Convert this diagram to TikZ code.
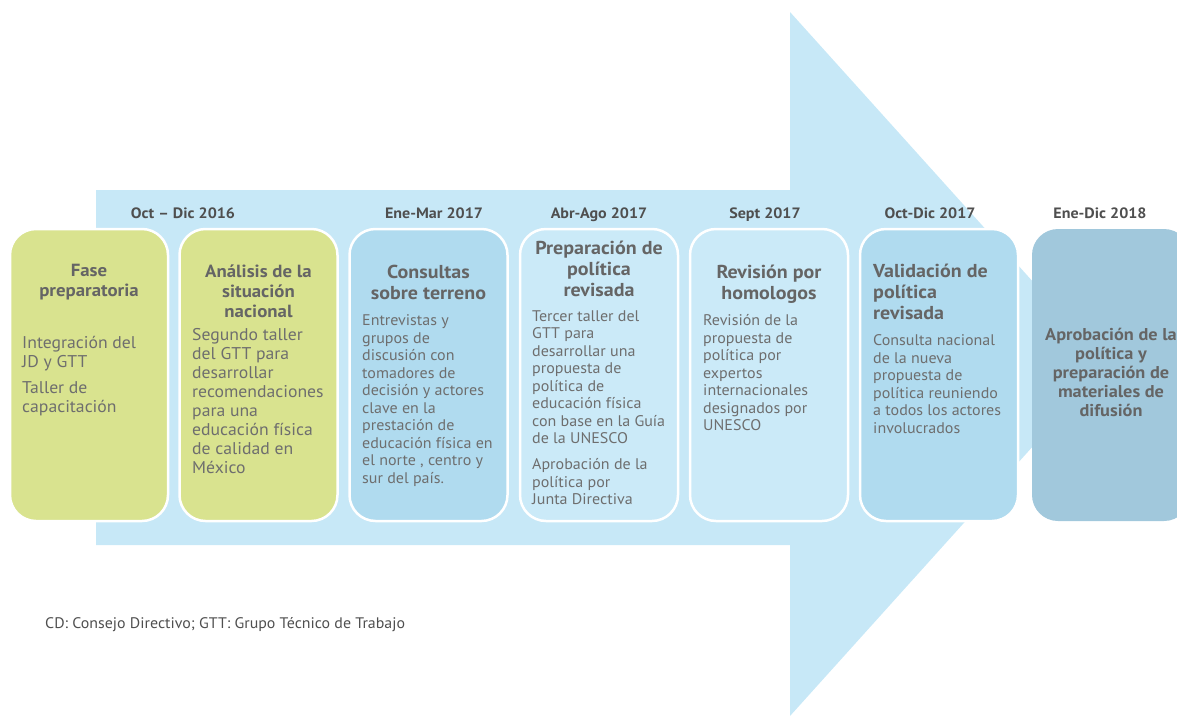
\documentclass[tikz,border=0pt]{standalone}
\usepackage{fontspec}
\setmainfont{PT Sans}[FakeStretch=1.04, BoldFeatures={FakeStretch=1.07}]
\usepackage{tikz}
\usetikzlibrary{positioning}

\definecolor{arrowblue}{HTML}{C7E8F7}
\definecolor{phasegreen}{HTML}{D9E38F}
\definecolor{phaseblue}{HTML}{B0DBEF}
\definecolor{phaselight}{HTML}{CBEAF8}
\definecolor{phasedark}{HTML}{A1C8DC}
\definecolor{headtext}{HTML}{656565}
\definecolor{bodytext}{HTML}{6E6E6E}
\definecolor{datetext}{HTML}{4F4F4F}

\begin{document}
\begin{tikzpicture}[x=1pt,y=-1pt,
    phase/.style={draw=white, line width=2.5pt, rounded corners=26pt,
        minimum width=158pt, minimum height=292pt, inner sep=0pt},
    period/.style={font=\fontsize{15}{17}\selectfont\bfseries, text=datetext,
        anchor=base, inner sep=0pt},
    head/.style={font=\fontsize{17.6}{20}\selectfont\bfseries, text=headtext,
        align=center, anchor=north, inner sep=0pt},
    bighead/.style={head, font=\fontsize{18.7}{21}\selectfont\bfseries},
    body/.style={font=\fontsize{17}{19}\selectfont, text=bodytext,
        align=left, anchor=north west, inner sep=0pt},
    smallbody/.style={body, font=\fontsize{15.4}{17.5}\selectfont}]
    \useasboundingbox (0,0) rectangle (1177,715);
    \clip (0,0) rectangle (1177,715);

    % big arrow behind the phases
    \fill[arrowblue] (96,190) -- (790,190) -- (790,12) -- (1107,364)
        -- (790,716) -- (790,545) -- (96,545) -- cycle;

    % periods
    \node[period] (d1) at (183,218.5) {Oct – Dic 2016};
    \node[period] (d2) at (434,218.5) {Ene-Mar 2017};
    \node[period] (d3) at (599,218.5) {Abr-Ago 2017};
    \node[period] (d4) at (765,218.5) {Sept 2017};
    \node[period] (d5) at (930,218.5) {Oct-Dic 2017};
    \node[period] (d6) at (1100,218.5) {Ene-Dic 2018};

    % phases
    \node[phase, fill=phasegreen] (b1) at (89,375) {};
    \node[phase, fill=phasegreen] (b2) at (258.5,375) {};
    \node[phase, fill=phaseblue] (b3) at (428.5,375) {};
    \node[phase, fill=phaselight] (b4) at (599,375) {};
    \node[phase, fill=phaselight] (b5) at (769,375) {};
    \node[phase, fill=phaseblue] (b6) at (939,375) {};
    \node[phase, fill=phasedark, draw=none] (b7) at (1111,375) {};

    \node[head] (h1) at (89,263.5) {Fase\\preparatoria};
    \node[body] (t1) at (22,336.5) {Integración del\\JD y GTT\\[7pt]Taller de\\capacitación};

    \node[head] (h2) at (258.5,264.5) {Análisis de la\\situación\\nacional};
    \node[body] (t2) at (192,328.5) {Segundo taller\\del GTT para\\desarrollar\\recomendaciones\\para una\\educación física\\de calidad en\\México};

    \node[bighead] (h3) at (428.5,265) {Consultas\\sobre terreno};
    \node[smallbody] (t3) at (362,314.5) {Entrevistas y\\grupos de\\discusión con\\tomadores de\\decisión y actores\\clave en la\\prestación de\\educación física en\\el norte , centro y\\sur del país.};

    \node[bighead] (h4) at (599,241) {Preparación de\\política\\revisada};
    \node[smallbody] (t4) at (532,310.5) {Tercer taller del\\GTT para\\desarrollar una\\propuesta de\\política de\\educación física\\con base en la Guía\\de la UNESCO\\[8.5pt]Aprobación de la\\política por\\Junta Directiva};

    \node[bighead] (h5) at (769,265) {Revisión por\\homologos};
    \node[smallbody] (t5) at (703,314.5) {Revisión de la\\propuesta de\\política por\\expertos\\internacionales\\designados por\\UNESCO};

    \node[bighead, align=left, anchor=north west] (h6) at (873,264) {Validación de\\política\\revisada};
    \node[smallbody] (t6) at (873,334.5) {Consulta nacional\\de la nueva\\propuesta de\\política reuniendo\\a todos los actores\\involucrados};

    \node[head, font=\fontsize{17.1}{19}\selectfont\bfseries] (h7) at (1111,327.5) {Aprobación de la\\política y\\preparación de\\materiales de\\difusión};

    % footnote
    \node[font=\fontsize{15.3}{17}\selectfont, text=datetext, anchor=west, inner sep=0pt] (note) at (45,625)
        {CD: Consejo Directivo; GTT: Grupo Técnico de Trabajo};
\end{tikzpicture}
\end{document}
